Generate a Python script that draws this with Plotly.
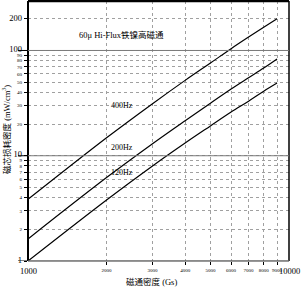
import math
import plotly.graph_objects as go

# Data
flux = [1000, 2000, 3000, 4000, 5000, 6000, 7000, 8000, 9000]
loss_400 = [3.85, 14.8, 31.2, 52, 76, 104, 134, 166, 200]
loss_200 = [1.62, 6.2, 13, 21.5, 31.5, 43, 55, 68, 83]
loss_120 = [1.0, 3.8, 8.0, 13.2, 19.2, 26, 33, 41, 49]
series_names = ["400Hz", "200Hz", "120Hz"]
label_pos = [(2290, 30), (2290, 12.1), (2290, 7)]

y_ticks = [1, 2, 3, 4, 5, 6, 7, 8, 9, 10, 20, 30, 40, 50, 60, 70, 80, 90, 100, 200]
y_big = [1, 10, 100, 200]
x_small = [2000, 3000, 4000, 5000, 6000, 7000, 8000, 9000]
x_big = [1000, 10000]

title_text = "60μ Hi-Flux铁镍高磁通"
x_title = "磁通密度 (Gs)"
y_title = "磁芯损耗密度 (mW/cm<sup>3</sup>)"

FONT = "Liberation Serif, Noto Sans CJK SC, serif"
L = math.log10

fig = go.Figure()
for ys in [loss_400, loss_200, loss_120]:
    fig.add_trace(go.Scatter(x=flux, y=ys, mode="lines", line=dict(color="black", width=1.2, shape="spline"),
                             showlegend=False, hoverinfo="skip"))

y_text = []
for v in y_ticks:
    if v in y_big:
        y_text.append(f"<span style='font-size:8.5px'>{v}</span>")
    else:
        y_text.append(str(v))

x_text = [str(v) for v in x_small]

fig.update_layout(
    width=301, height=289,
    margin=dict(l=28, r=12, t=1, b=28),
    paper_bgcolor="white", plot_bgcolor="white",
    font=dict(family=FONT, color="black", size=8),
    xaxis=dict(type="log", range=[3, 4], tickvals=x_small, ticktext=x_text,
               tickfont=dict(size=5, family=FONT),
               showgrid=True, gridcolor="#a0a0a0", griddash="dot", gridwidth=1,
               ticks="outside", ticklen=3, tickcolor="black", tickwidth=1,
               showline=False, zeroline=False, tickangle=0, ticklabelstandoff=1),
    yaxis=dict(type="log", range=[0, 2.47], tickvals=y_ticks, ticktext=y_text,
               tickfont=dict(size=5, family=FONT),
               showgrid=True, gridcolor="#a0a0a0", griddash="dot", gridwidth=1,
               ticks="outside", ticklen=3, tickcolor="black", tickwidth=1,
               showline=False, zeroline=False, ticklabelstandoff=1),
)

# frame
fig.add_shape(type="line", xref="paper", yref="paper", x0=0, x1=0, y0=0, y1=1, line=dict(color="black", width=2))
fig.add_shape(type="line", xref="paper", yref="paper", x0=0, x1=1, y0=1, y1=1, line=dict(color="black", width=2.5))
fig.add_shape(type="line", xref="paper", yref="paper", x0=1, x1=1, y0=0, y1=1, line=dict(color="black", width=1.5))
fig.add_shape(type="line", xref="paper", yref="paper", x0=0, x1=1, y0=0, y1=0, line=dict(color="#333333", width=1))
# long major ticks and slightly darker major gridlines
for v in [1, 10, 100]:
    fig.add_shape(type="line", xref="paper", yref="y", x0=-10 / 261, x1=0, y0=v, y1=v,
                  line=dict(color="black", width=1))
    fig.add_shape(type="line", xref="paper", yref="y", x0=0, x1=1, y0=v, y1=v,
                  line=dict(color="#7a7a7a", width=1))

fig.add_annotation(x=L(1000), y=0, xref="x", yref="paper", text=str(x_big[0]), showarrow=False,
                   yshift=-16, borderpad=0, font=dict(size=8.5, family=FONT))
fig.add_annotation(x=(301 - 28) / 261, y=0, xref="paper", yref="paper", text=str(x_big[1]), showarrow=False,
                   xanchor="right", yshift=-16, borderpad=0, font=dict(size=8.5, family=FONT))

for name, (px, py) in zip(series_names, label_pos):
    fig.add_annotation(x=L(px), y=L(py), xref="x", yref="y", text=name, showarrow=False,
                       font=dict(size=8, family=FONT))

fig.add_annotation(x=L(2290), y=L(139), xref="x", yref="y", text=title_text, showarrow=False,
                   font=dict(size=8.5, family=FONT))
fig.add_annotation(x=(151 - 28) / 261, y=-21 / 260, xref="paper", yref="paper", text=x_title,
                   xanchor="center", yanchor="middle",
                   showarrow=False, font=dict(size=8.5, family=FONT))
fig.add_annotation(x=-22 / 261, y=(261 - 130) / 260, xref="paper", yref="paper", text=y_title,
                   xanchor="center", yanchor="middle",
                   textangle=-90, showarrow=False, font=dict(size=8.5, family=FONT))

fig.write_html("out.html")
